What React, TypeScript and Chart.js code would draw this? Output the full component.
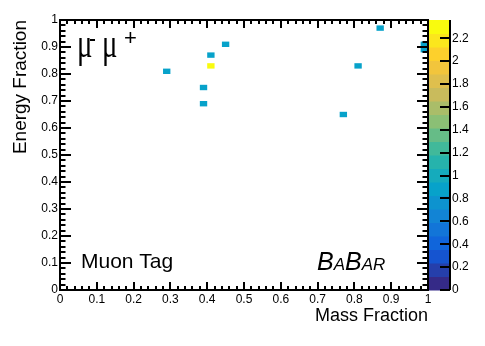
import React, { useEffect, useRef } from "react";
import { Chart, registerables } from "chart.js";

Chart.register(...registerables);

// Histogram bins (lower edges, width 0.02) and their contents
const binWidth = 0.02;
const binX = [0.28, 0.38, 0.38, 0.40, 0.40, 0.44, 0.76, 0.80, 0.86, 0.98, 0.98];
const binY = [0.80, 0.68, 0.74, 0.86, 0.82, 0.90, 0.64, 0.82, 0.96, 0.88, 0.90];
const binZ = [0.9, 0.9, 0.9, 0.9, 2.3, 0.9, 0.9, 0.9, 0.9, 0.9, 0.9];

const zMax = 2.36;
const nContours = 20;
const axisTicks = [0, 0.1, 0.2, 0.3, 0.4, 0.5, 0.6, 0.7, 0.8, 0.9, 1];
const zTicks = [0, 0.2, 0.4, 0.6, 0.8, 1, 1.2, 1.4, 1.6, 1.8, 2, 2.2];

const xTitle = "Mass Fraction";
const yTitle = "Energy Fraction";
const tagText = "Muon Tag";

const FONT = "'Liberation Sans', Arial, Helvetica, sans-serif";

// ROOT kBird palette
const stops = [0.0, 0.125, 0.25, 0.375, 0.5, 0.625, 0.75, 0.875, 1.0];
const reds = [0.2082, 0.0592, 0.078, 0.0232, 0.1802, 0.5301, 0.8186, 0.9956, 0.9764];
const greens = [0.1664, 0.3599, 0.5041, 0.6419, 0.7178, 0.7492, 0.7328, 0.7862, 0.9832];
const blues = [0.5293, 0.8684, 0.8385, 0.7914, 0.6425, 0.4662, 0.3499, 0.1968, 0.0539];

function palette(t: number): string {
  t = Math.max(0, Math.min(1, t));
  let i = 0;
  while (i < stops.length - 2 && t > stops[i + 1]) i++;
  const f = (t - stops[i]) / (stops[i + 1] - stops[i]);
  const c = (a: number[]) => Math.round(255 * (a[i] + f * (a[i + 1] - a[i])));
  return `rgb(${c(reds)},${c(greens)},${c(blues)})`;
}

function bandColor(z: number): string {
  const band = Math.min(nContours - 1, Math.floor((nContours * z) / zMax));
  return palette(band / (nContours - 1));
}

const rootPlugin = {
  id: "rootStyle",
  afterDatasetsDraw(chart: any) {
    const { ctx } = chart;
    const xs = chart.scales.x;
    const ys = chart.scales.y;
    ctx.save();
    for (let i = 0; i < binX.length; i++) {
      const x0 = xs.getPixelForValue(binX[i]);
      const x1 = xs.getPixelForValue(binX[i] + binWidth);
      const y0 = ys.getPixelForValue(binY[i]);
      const y1 = ys.getPixelForValue(binY[i] + binWidth);
      ctx.fillStyle = bandColor(binZ[i]);
      ctx.fillRect(x0, y1, x1 - x0, y0 - y1);
    }
    ctx.restore();
  },
  afterDraw(chart: any) {
    const { ctx, chartArea } = chart;
    const xs = chart.scales.x;
    const ys = chart.scales.y;
    const zs = chart.scales.z;
    const { left, right, top, bottom } = chartArea;
    ctx.save();
    ctx.strokeStyle = "#000";
    ctx.lineWidth = 2;
    ctx.beginPath();
    for (let i = 0; i <= 50; i++) {
      const v = i * 0.02;
      const px = Math.round(xs.getPixelForValue(v));
      const lx = i % 5 === 0 ? 8 : 4;
      ctx.moveTo(px, bottom);
      ctx.lineTo(px, bottom - lx);
      ctx.moveTo(px, top);
      ctx.lineTo(px, top + lx);
      const py = Math.round(ys.getPixelForValue(v));
      const ly = i % 5 === 0 ? 11 : 5.5;
      ctx.moveTo(left, py);
      ctx.lineTo(left + ly, py);
      ctx.moveTo(right, py);
      ctx.lineTo(right - ly, py);
    }
    ctx.stroke();
    ctx.strokeRect(left, top, right - left, bottom - top);

    // colour bar
    const cbL = right;
    const cbR = right + 22;
    for (let i = 0; i < nContours; i++) {
      const ya = zs.getPixelForValue((i * zMax) / nContours);
      const yb = zs.getPixelForValue(((i + 1) * zMax) / nContours);
      ctx.fillStyle = palette(i / (nContours - 1));
      ctx.fillRect(cbL + 1, yb, cbR - cbL - 1, ya - yb + 0.5);
    }
    ctx.beginPath();
    ctx.moveTo(cbR, top);
    ctx.lineTo(cbR, bottom);
    for (const t of zTicks) {
      const py = Math.round(zs.getPixelForValue(t));
      ctx.moveTo(cbR, py);
      ctx.lineTo(cbR - 10, py);
    }
    ctx.stroke();

    // texts
    ctx.fillStyle = "#000";
    ctx.textBaseline = "alphabetic";
    ctx.textAlign = "left";
    const mu = "\u03bc";
    const drawMu = (x: number) => {
      ctx.save();
      ctx.translate(x, 57);
      ctx.scale(0.72, 1);
      ctx.font = `40px 'Liberation Serif', 'Times New Roman', serif`;
      ctx.fillText(mu, 0, 0);
      ctx.restore();
    };
    drawMu(77);
    ctx.fillRect(90, 39, 5, 2);
    drawMu(102);
    ctx.font = `22px ${FONT}`;
    ctx.fillText("+", 124, 45);

    ctx.font = `21px ${FONT}`;
    ctx.fillText(tagText, 81, 268);

    let bx = 317;
    const parts: [string, number][] = [["B", 25], ["A", 17], ["B", 25], ["AR", 17]];
    for (const [s, size] of parts) {
      ctx.font = `italic ${size}px ${FONT}`;
      ctx.fillText(s, bx, 270);
      bx += ctx.measureText(s).width;
    }
    ctx.restore();
  },
};

const fmt = (v: any) => String(Math.round(Number(v) * 10) / 10);

const noPad = (s: any) => {
  s.paddingTop = 0;
  s.paddingBottom = 0;
  s.paddingLeft = 0;
  s.paddingRight = 0;
};

export default function App() {
  const ref = useRef<HTMLCanvasElement | null>(null);
  useEffect(() => {
    if (!ref.current) return;
    const chart = new Chart(ref.current, {
      type: "scatter",
      data: {
        datasets: [
          {
            label: "bins",
            data: binX.map((x, i) => ({ x: x + binWidth / 2, y: binY[i] + binWidth / 2 })),
            pointRadius: 0,
            pointHoverRadius: 0,
          },
        ],
      },
      options: {
        responsive: false,
        animation: false,
        devicePixelRatio: 1,
        layout: { padding: { top: 20, left: 0, right: 0, bottom: 0 } },
        plugins: { legend: { display: false }, tooltip: { enabled: false } },
        events: [],
        scales: {
          x: {
            type: "linear",
            position: "bottom",
            min: 0,
            max: 1,
            afterBuildTicks: (s: any) => {
              s.ticks = axisTicks.map((v) => ({ value: v }));
            },
            afterFit: (s: any) => {
              s.height = 56;
              noPad(s);
            },
            grid: { display: false, drawTicks: false, tickLength: 0 },
            border: { display: false },
            ticks: {
              autoSkip: false,
              maxRotation: 0,
              padding: 2,
              color: "#000",
              font: { family: FONT, size: 12 },
              callback: fmt,
            },
            title: {
              display: true,
              text: xTitle,
              align: "end",
              color: "#000",
              font: { family: FONT, size: 18 },
              padding: { top: 0, bottom: 19 },
            },
          },
          y: {
            type: "linear",
            position: "left",
            min: 0,
            max: 1,
            afterBuildTicks: (s: any) => {
              s.ticks = axisTicks.map((v) => ({ value: v }));
            },
            afterFit: (s: any) => {
              s.width = 60;
              noPad(s);
            },
            grid: { display: false, drawTicks: false, tickLength: 0 },
            border: { display: false },
            ticks: {
              autoSkip: false,
              padding: 2,
              color: "#000",
              font: { family: FONT, size: 12 },
              callback: fmt,
            },
            title: {
              display: true,
              text: yTitle,
              align: "end",
              color: "#000",
              font: { family: FONT, size: 19 },
              padding: { top: 9, bottom: 0 },
            },
          },
          z: {
            type: "linear",
            axis: "y",
            position: "right",
            min: 0,
            max: zMax,
            afterBuildTicks: (s: any) => {
              s.ticks = zTicks.map((v) => ({ value: v }));
            },
            afterFit: (s: any) => {
              s.width = 57;
              noPad(s);
            },
            grid: { display: false, drawTicks: false, tickLength: 0 },
            border: { display: false },
            ticks: {
              autoSkip: false,
              padding: 24,
              color: "#000",
              font: { family: FONT, size: 12 },
              callback: fmt,
            },
          },
        },
      } as any,
      plugins: [rootPlugin],
    });
    return () => chart.destroy();
  }, []);
  return (
    <div style={{ position: "fixed", left: 0, top: 0, width: 485, height: 346, background: "#fff" }}>
      <canvas ref={ref} width={485} height={346} />
    </div>
  );
}
